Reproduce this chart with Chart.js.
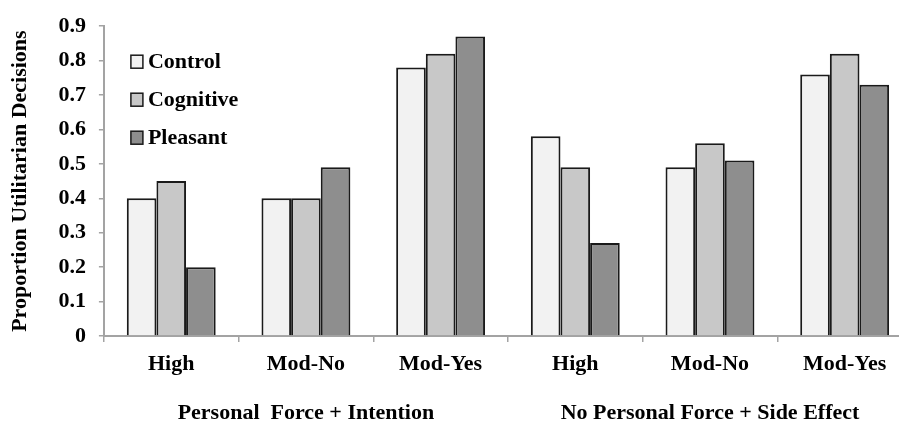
<!DOCTYPE html>
<html>
<head>
<meta charset="utf-8">
<script src="https://cdn.jsdelivr.net/npm/chart.js@4"></script>
<style>
  html, body { margin: 0; padding: 0; background: #fff; overflow: hidden; }
  /* the source plot runs a little past the right edge, so the canvas is wider than the window */
  #wrap { width: 899px; height: 423px; overflow: hidden; }
</style>
</head>
<body>
<div id="wrap"><canvas id="chart" width="912" height="423"></canvas></div>
<script>
  // categories and groups
  const conditions = ['High', 'Mod-No', 'Mod-Yes', 'High', 'Mod-No', 'Mod-Yes'];
  const groups = ['Personal  Force + Intention', 'No Personal Force + Side Effect'];

  // series values
  const control   = [0.40, 0.40, 0.78, 0.58, 0.49, 0.76];
  const cognitive = [0.45, 0.40, 0.82, 0.49, 0.56, 0.82];
  const pleasant  = [0.20, 0.49, 0.87, 0.27, 0.51, 0.73];

  const yMax = 0.9;
  const yStep = 0.1;

  var SERIF = '"Liberation Serif", "Times New Roman", serif';
  var AXIS_GREY = '#a3a3a3';

  function font(size, lh) {
    return { family: SERIF, size: size, weight: 'bold', lineHeight: lh || 1.2 };
  }

  function series(label, data, color) {
    return {
      label: label,
      data: data,
      backgroundColor: color,
      borderColor: '#1a1a1a',
      borderWidth: 2,
      borderSkipped: 'bottom',
      barPercentage: 1.0,
      categoryPercentage: 0.66
    };
  }

  // legend drawn inside the plot, top-left
  var innerLegend = {
    id: 'innerLegend',
    afterDraw: function (chart) {
      var ctx = chart.ctx;
      var area = chart.chartArea;
      var x = area.left + 27;
      var y = area.top + 35;
      ctx.save();
      ctx.font = 'bold 22px ' + SERIF;
      ctx.textBaseline = 'middle';
      chart.data.datasets.forEach(function (ds, i) {
        var cy = y + i * 38;
        ctx.fillStyle = ds.backgroundColor;
        ctx.fillRect(x, cy - 6, 12, 13);
        ctx.strokeStyle = '#1a1a1a';
        ctx.lineWidth = 1.5;
        ctx.strokeRect(x, cy - 6, 12, 13);
        ctx.fillStyle = '#000';
        ctx.fillText(ds.label, x + 17, cy + 1);
      });
      ctx.restore();
    }
  };

  new Chart(document.getElementById('chart'), {
    type: 'bar',
    data: {
      labels: conditions,
      datasets: [
        series('Control', control, '#f2f2f2'),
        series('Cognitive', cognitive, '#c8c8c8'),
        series('Pleasant', pleasant, '#8e8e8e')
      ]
    },
    options: {
      responsive: false,
      animation: false,
      devicePixelRatio: 1,
      layout: { padding: { top: 3, left: 0, right: 0, bottom: -16 } },
      plugins: {
        legend: { display: false },
        tooltip: { enabled: false }
      },
      scales: {
        x: {
          type: 'category',
          offset: true,
          grid: {
            offset: true,
            drawOnChartArea: false,
            drawTicks: true,
            tickLength: 6,
            color: AXIS_GREY,
            lineWidth: 1.5
          },
          border: { color: AXIS_GREY, width: 2 },
          ticks: { color: '#000', font: font(22, 1), padding: 11.5, maxRotation: 0 }
        },
        x2: {
          type: 'category',
          position: 'bottom',
          labels: groups,
          offset: true,
          grid: { display: false, drawTicks: false },
          border: { display: false },
          ticks: { color: '#000', font: font(22, 1), padding: 15, maxRotation: 0 }
        },
        y: {
          min: 0,
          max: yMax,
          grid: {
            drawOnChartArea: false,
            drawTicks: true,
            tickLength: 5,
            color: AXIS_GREY,
            lineWidth: 1.5
          },
          border: { color: AXIS_GREY, width: 2 },
          ticks: {
            stepSize: yStep,
            color: '#000',
            font: font(22),
            padding: 13,
            callback: function (v) { return v === 0 ? '0' : Number(v).toFixed(1); }
          },
          title: {
            display: true,
            text: 'Proportion Utilitarian Decisions',
            color: '#000',
            font: font(22),
            padding: { top: 7, bottom: 12 }
          }
        }
      }
    },
    plugins: [innerLegend]
  });
</script>
</body>
</html>
